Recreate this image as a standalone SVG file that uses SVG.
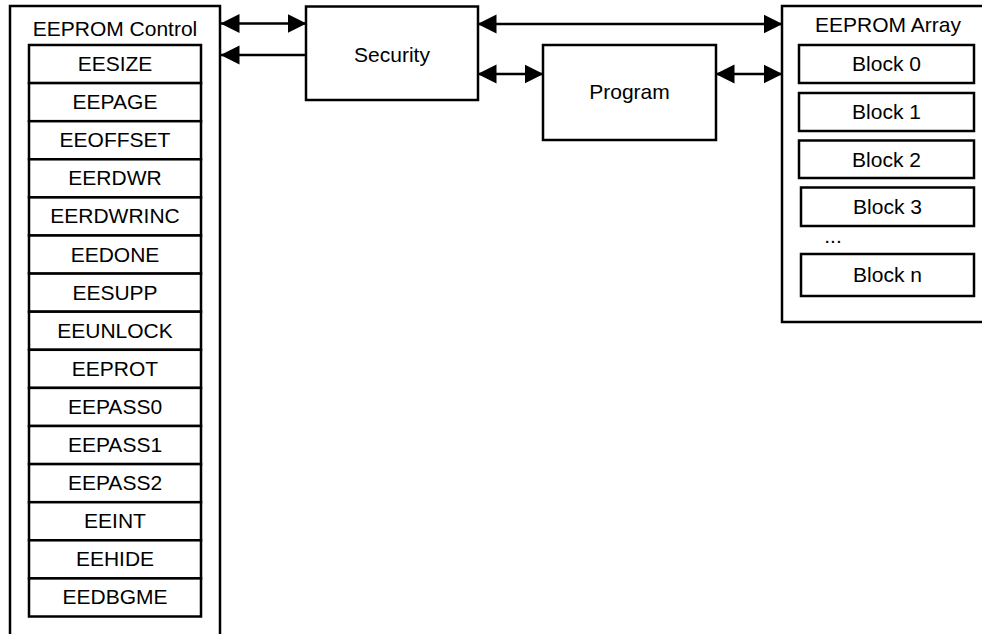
<svg xmlns="http://www.w3.org/2000/svg" width="982" height="634" viewBox="0 0 982 634">
<style>
.box{fill:#fff;stroke:#000;stroke-width:2.5}
.t{font-family:"Liberation Sans",Arial,sans-serif;font-size:21px;fill:#000;text-anchor:middle}
.c{stroke:#000;stroke-width:2.5;fill:none}
</style>
<defs>
<marker id="ah" markerUnits="userSpaceOnUse" markerWidth="19" markerHeight="20" refX="18.5" refY="10" orient="auto-start-reverse" viewBox="0 0 19 20">
<path d="M0,0.5 L19,10 L0,19.5 z" fill="#000"/>
</marker>
</defs>
<rect width="982" height="634" fill="#fff"/>
<g id="eeprom-control">
<rect class="box" x="10" y="6" width="210" height="640"/>
<text class="t" x="115" y="36">EEPROM Control</text>
<g id="registers">
<rect class="box" x="29" y="45" width="172" height="38.1"/><text class="t" x="115" y="71">EESIZE</text>
<rect class="box" x="29" y="83.1" width="172" height="38.1"/><text class="t" x="115" y="109.1">EEPAGE</text>
<rect class="box" x="29" y="121.2" width="172" height="38.1"/><text class="t" x="115" y="147.2">EEOFFSET</text>
<rect class="box" x="29" y="159.3" width="172" height="38.1"/><text class="t" x="115" y="185.3">EERDWR</text>
<rect class="box" x="29" y="197.4" width="172" height="38.1"/><text class="t" x="115" y="223.4">EERDWRINC</text>
<rect class="box" x="29" y="235.5" width="172" height="38.1"/><text class="t" x="115" y="261.5">EEDONE</text>
<rect class="box" x="29" y="273.6" width="172" height="38.1"/><text class="t" x="115" y="299.6">EESUPP</text>
<rect class="box" x="29" y="311.7" width="172" height="38.1"/><text class="t" x="115" y="337.7">EEUNLOCK</text>
<rect class="box" x="29" y="349.8" width="172" height="38.1"/><text class="t" x="115" y="375.8">EEPROT</text>
<rect class="box" x="29" y="387.9" width="172" height="38.1"/><text class="t" x="115" y="413.9">EEPASS0</text>
<rect class="box" x="29" y="426" width="172" height="38.1"/><text class="t" x="115" y="452">EEPASS1</text>
<rect class="box" x="29" y="464.1" width="172" height="38.1"/><text class="t" x="115" y="490.1">EEPASS2</text>
<rect class="box" x="29" y="502.2" width="172" height="38.1"/><text class="t" x="115" y="528.2">EEINT</text>
<rect class="box" x="29" y="540.3" width="172" height="38.1"/><text class="t" x="115" y="566.3">EEHIDE</text>
<rect class="box" x="29" y="578.4" width="172" height="38.1"/><text class="t" x="115" y="604.4">EEDBGME</text>
</g>
</g>
<g id="security">
<rect class="box" x="306" y="6.5" width="172" height="93.5"/>
<text class="t" x="392" y="62">Security</text>
</g>
<g id="program">
<rect class="box" x="543" y="45" width="173" height="95"/>
<text class="t" x="629.5" y="99">Program</text>
</g>
<g id="eeprom-array">
<rect class="box" x="782" y="6" width="220" height="316"/>
<text class="t" x="888" y="32">EEPROM Array</text>
<rect class="box" x="799" y="45" width="175" height="38"/><text class="t" x="886.5" y="71">Block 0</text>
<rect class="box" x="799" y="93" width="175" height="38"/><text class="t" x="886.5" y="119">Block 1</text>
<rect class="box" x="799" y="140.5" width="175" height="37.5"/><text class="t" x="886.5" y="166.5">Block 2</text>
<rect class="box" x="801" y="187.5" width="173" height="38.5"/><text class="t" x="887.5" y="214">Block 3</text>
<text class="t" x="833" y="243">...</text>
<rect class="box" x="801" y="254" width="173" height="42"/><text class="t" x="887.5" y="282">Block n</text>
</g>
<g id="connectors">
<line class="c" x1="221" y1="23.5" x2="306" y2="23.5" marker-start="url(#ah)" marker-end="url(#ah)"/>
<line class="c" x1="306" y1="55" x2="221" y2="55" marker-end="url(#ah)"/>
<line class="c" x1="478" y1="24" x2="782" y2="24" marker-start="url(#ah)" marker-end="url(#ah)"/>
<line class="c" x1="478" y1="74" x2="543" y2="74" marker-start="url(#ah)" marker-end="url(#ah)"/>
<line class="c" x1="716" y1="74" x2="782" y2="74" marker-start="url(#ah)" marker-end="url(#ah)"/>
</g>
</svg>
